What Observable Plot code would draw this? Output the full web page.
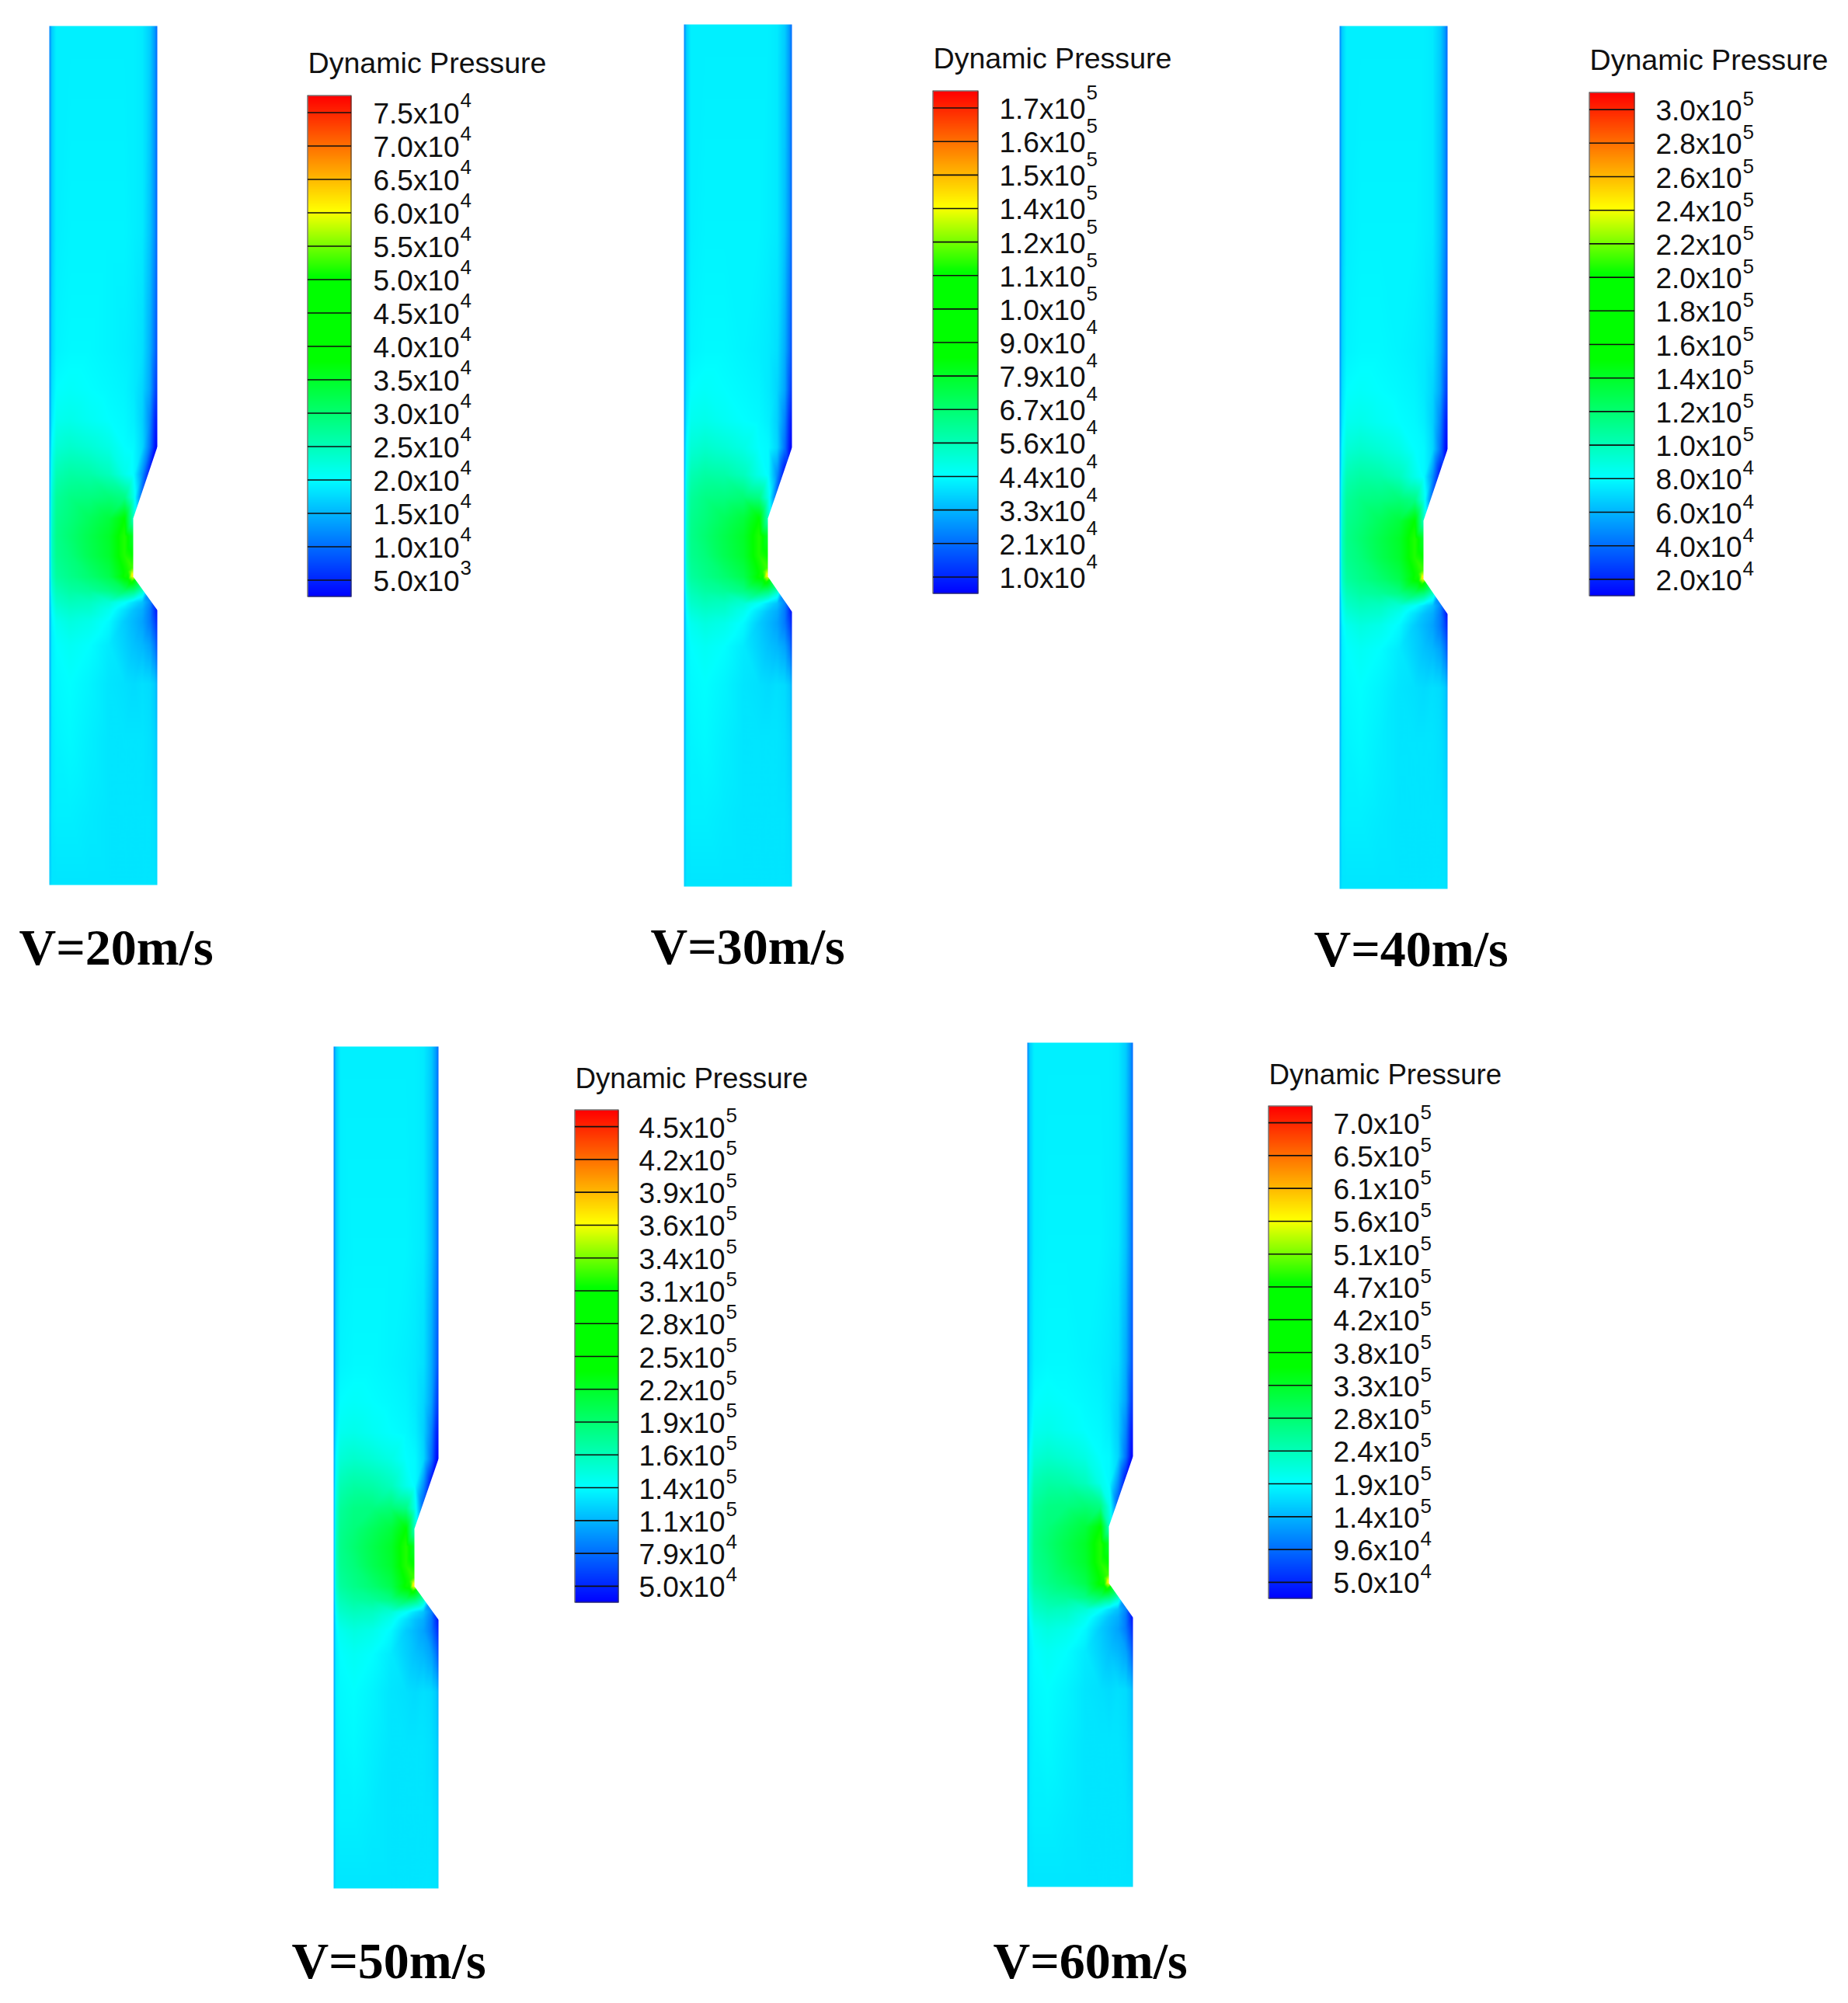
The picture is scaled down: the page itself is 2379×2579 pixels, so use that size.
<!DOCTYPE html>
<html>
<head>
<meta charset="utf-8">
<style>html,body{margin:0;padding:0;background:#fff;overflow:hidden}</style>
<script src="https://cdn.jsdelivr.net/npm/d3@7"></script>
<script src="https://cdn.jsdelivr.net/npm/@observablehq/plot@0.6"></script>
</head>
<body>
<div id="chart"></div>
<script>
// Figure captions
const speeds = ["V=20m/s","V=30m/s","V=40m/s","V=50m/s","V=60m/s"];

// Legend labels (mantissa and power of ten), top to bottom
const mant20 = ["7.5","7.0","6.5","6.0","5.5","5.0","4.5","4.0","3.5","3.0","2.5","2.0","1.5","1.0","5.0"];
const exp20  = ["4","4","4","4","4","4","4","4","4","4","4","4","4","4","3"];
const mant30 = ["1.7","1.6","1.5","1.4","1.2","1.1","1.0","9.0","7.9","6.7","5.6","4.4","3.3","2.1","1.0"];
const exp30  = ["5","5","5","5","5","5","5","4","4","4","4","4","4","4","4"];
const mant40 = ["3.0","2.8","2.6","2.4","2.2","2.0","1.8","1.6","1.4","1.2","1.0","8.0","6.0","4.0","2.0"];
const exp40  = ["5","5","5","5","5","5","5","5","5","5","5","4","4","4","4"];
const mant50 = ["4.5","4.2","3.9","3.6","3.4","3.1","2.8","2.5","2.2","1.9","1.6","1.4","1.1","7.9","5.0"];
const exp50  = ["5","5","5","5","5","5","5","5","5","5","5","5","5","4","4"];
const mant60 = ["7.0","6.5","6.1","5.6","5.1","4.7","4.2","3.8","3.3","2.8","2.4","1.9","1.4","9.6","5.0"];
const exp60  = ["5","5","5","5","5","5","5","5","5","5","5","5","5","4","4"];

// Channel geometry: left, throat, right, top, notch start, throat top, throat bottom, notch end, bottom
const geom20 = [63,171,202,33,575,667,742,785,1139];
const geom30 = [880,988,1019,31,576,667,742,787,1141];
const geom40 = [1724,1832,1863,33,578,670,745,790,1144];
const geom50 = [429,533,564,1347,1878,1968,2042,2085,2431];
const geom60 = [1322,1427,1458,1342,1875,1965,2038,2082,2429];

// Legend placement: bar left, bar right, top, bottom, title baseline, label x, exponent rise, title size
const legend20 = [396,452,123,768,93,480,21,37.6];
const legend30 = [1201,1259,117,764,87,1286,25,37.6];
const legend40 = [2046,2104,119,767,89,2131,19,37.6];
const legend50 = [740,796,1429,2063,1400,822,20,36.7];
const legend60 = [1633,1689,1424,2058,1395,1716,19,36.7];

// Caption x and baseline
const captionX = [24,837,1691,375,1278];
const captionY = [1241,1240,1243,2546,2546];

// Legend ramp: fraction of the bar height, and the rainbow position read at that fraction
const rampAt = [0,.235,.47,.64,.77,1];
const rampT  = [0,.25,.5,.5,.75,1];

// Field read from the V=20 panel, on its own pixel grid. Values are position on the rainbow (0 blue ... 1 red)
const fieldX = [63,66,72,90,115,140,160,172,183,193,199,202];
const fieldY = [33,300,450,500,540,575,610,640,667,690,715,742,760,775,785,800,830,880,950,1050,1139];
const row033 = [.12,.20,.235,.235,.235,.235,.235,.235,.23,.20,.15,.10];
const row300 = [.12,.20,.235,.24,.24,.24,.24,.235,.23,.19,.14,.09];
const row450 = [.12,.21,.24,.245,.245,.24,.235,.23,.22,.17,.11,.07];
const row500 = [.13,.22,.25,.255,.25,.245,.24,.23,.21,.16,.08,.05];
const row540 = [.14,.23,.265,.27,.26,.25,.245,.235,.205,.13,.04,.02];
const row575 = [.15,.25,.29,.30,.29,.275,.25,.245,.21,.11,.02,0];
const row610 = [.15,.27,.325,.34,.335,.315,.27,.245,.14,0,0,0];
const row640 = [.15,.29,.35,.37,.375,.385,.37,.27,.08,0,0,0];
const row667 = [.15,.30,.36,.38,.41,.44,.50,.30,.2,.2,.2,.2];
const row690 = [.15,.31,.365,.39,.425,.46,.53,.45,.4,.4,.4,.4];
const row715 = [.15,.31,.36,.38,.42,.455,.53,.50,.5,.5,.5,.5];
const row742 = [.15,.30,.345,.365,.39,.425,.51,.75,.4,.4,.4,.4];
const row760 = [.15,.28,.32,.34,.35,.37,.40,.38,.31,.1,.1,.1];
const row775 = [.15,.26,.30,.315,.31,.29,.255,.22,.19,.13,.04,.02];
const row785 = [.15,.25,.285,.30,.295,.265,.22,.19,.17,.12,.05,.01];
const row800 = [.15,.24,.265,.28,.27,.245,.20,.18,.16,.12,.07,.03];
const row830 = [.15,.235,.25,.26,.25,.23,.205,.19,.18,.16,.12,.07];
const row880 = [.15,.235,.245,.25,.24,.225,.22,.215,.22,.215,.20,.17];
const row950 = [.16,.23,.24,.245,.235,.225,.225,.225,.225,.22,.21,.19];
const row1050 = [.18,.23,.235,.235,.23,.225,.225,.225,.225,.225,.22,.205];
const row1139 = [.20,.225,.225,.225,.225,.225,.225,.225,.225,.225,.225,.215];
const fieldRows = [row033,row300,row450,row500,row540,row575,row610,row640,row667,row690,row715,row742,row760,row775,row785,row800,row830,row880,row950,row1050,row1139];

// Hot spot at the throat's lower corner and the bright ring around it
const spotX = [170,168,164,165,169,170];
const spotY = [740,736,735,745,748,730];
const spotT = [.80,.62,.52,.50,.52,.56];

const panels = [
  {g:geom20,l:legend20,m:mant20,e:exp20},
  {g:geom30,l:legend30,m:mant30,e:exp30},
  {g:geom40,l:legend40,m:mant40,e:exp40},
  {g:geom50,l:legend50,m:mant50,e:exp50},
  {g:geom60,l:legend60,m:mant60,e:exp60}
];

const marks = [];
const SANS = "Liberation Sans, Arial, sans-serif";
const SERIF = "Liberation Serif, Times New Roman, serif";
const ramp = d3.scaleLinear(rampAt,rampT);

panels.forEach((p,i)=>{
  const [gl,gt,gr,gtop,gs,gtt,gtb,ge,gbot] = p.g;
  const mx = d3.scaleLinear([63,171,202],[gl,gt,gr]);
  const my = d3.scaleLinear([33,575,667,742,785,1139],[gtop,gs,gtt,gtb,ge,gbot]);
  const pts = [];
  fieldRows.forEach((row,r)=>row.forEach((t,c)=>pts.push({x:mx(fieldX[c]),y:my(fieldY[r]),t})));
  spotT.forEach((t,k)=>pts.push({x:mx(spotX[k]),y:my(spotY[k]),t}));
  marks.push(Plot.raster(pts,{x:"x",y:"y",fill:"t",interpolate:"barycentric",
    x1:gl,x2:gr,y1:gtop,y2:gbot,width:gr-gl,height:gbot-gtop}));
  // white notch cut out of the channel wall
  const notch = [{x:gr+2,y:gs},{x:gr,y:gs},{x:gt,y:gtt},{x:gt,y:gtb},{x:gr,y:ge},{x:gr+2,y:ge}];
  marks.push(Plot.line(notch,{x:"x",y:"y",fill:"white",stroke:"none"}));

  // legend
  const [lx1,lx2,ly1,ly2,tb,lab,rise,ts] = p.l;
  marks.push(Plot.raster({x1:lx1,x2:lx2,y1:ly1,y2:ly2,width:lx2-lx1,height:ly2-ly1,
    fill:(x,y)=>ramp((ly2-y)/(ly2-ly1))}));
  marks.push(Plot.rect([0],{x1:lx1,x2:lx2,y1:ly1,y2:ly2,fill:"none",stroke:"#333",strokeWidth:1}));
  const rows = p.m.map((m,k)=>({m,e:p.e[k],y:ly1+(k+.5)*(ly2-ly1)/15}));
  marks.push(Plot.ruleY(rows,{y:"y",x1:lx1,x2:lx2,stroke:"#111",strokeWidth:1.6}));
  marks.push(Plot.text(rows,{x:lab,y:d=>d.y+14,text:d=>d.m+"x10",textAnchor:"start",lineAnchor:"bottom",
    fontFamily:SANS,fontSize:37,fill:"#111"}));
  marks.push(Plot.text(rows,{x:lab+112,y:d=>d.y+14-rise,text:"e",textAnchor:"start",lineAnchor:"bottom",
    fontFamily:SANS,fontSize:26,fill:"#111"}));
  marks.push(Plot.text(["Dynamic Pressure"],{x:lx1,y:tb,text:d=>d,textAnchor:"start",lineAnchor:"bottom",
    fontFamily:SANS,fontSize:ts,fill:"#111"}));
  // caption
  marks.push(Plot.text([speeds[i]],{x:captionX[i],y:captionY[i],text:d=>d,textAnchor:"start",lineAnchor:"bottom",
    fontFamily:SERIF,fontWeight:"bold",fontSize:66,fill:"#000"}));
});

const chart = Plot.plot({
  width:2379,height:2579,margin:0,
  style:{background:"#fff"},
  x:{domain:[0,2379],range:[0,2379],axis:null},
  y:{domain:[0,2579],range:[0,2579],axis:null},
  color:{type:"linear",domain:[0,.25,.5,.75,1],range:["#0000ff","#00ffff","#00ff00","#ffff00","#ff0000"],interpolate:"rgb",clamp:true},
  marks
});
document.getElementById("chart").appendChild(chart);
</script>
</body>
</html>
